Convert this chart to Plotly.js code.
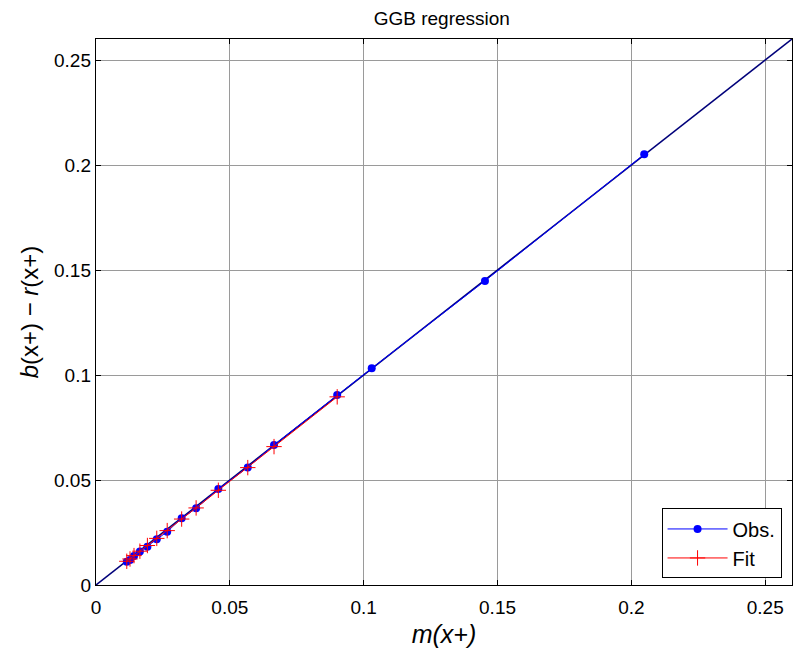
<!DOCTYPE html>
<html>
<head>
<meta charset="utf-8">
<script src="https://cdn.plot.ly/plotly-3.0.1.min.js"></script>
<style>html,body{margin:0;padding:0;background:#fff;}#chart{width:799px;height:650px;}</style>
</head>
<body>
<div id="chart"></div>
<script>
// Observed values
var obsX = [0.0115, 0.0127, 0.0142, 0.0164, 0.0192, 0.0227, 0.0266, 0.0320, 0.0374, 0.0457, 0.0567, 0.0665, 0.0901, 0.1030, 0.1453, 0.2048];
var obsY = [0.0111, 0.0119, 0.0138, 0.0159, 0.0182, 0.0218, 0.0254, 0.0318, 0.0365, 0.0457, 0.0560, 0.0667, 0.0905, 0.1032, 0.1448, 0.2051];
// Fitted values
var fitX = [0.0115, 0.0127, 0.0142, 0.0164, 0.0192, 0.0227, 0.0266, 0.0320, 0.0374, 0.0457, 0.0567, 0.0665, 0.0901];
var fitY = [0.0113, 0.0124, 0.0140, 0.0161, 0.0188, 0.0222, 0.0259, 0.0314, 0.0367, 0.0451, 0.0559, 0.0659, 0.0896];
// Reference diagonal
var diagX = [0, 0.26];
var diagY = [0, 0.26];
var tickVals = [0, 0.05, 0.1, 0.15, 0.2, 0.25];
var tickText = ['0', '0.05', '0.1', '0.15', '0.2', '0.25'];

var FONT = 'Liberation Sans, Arial, sans-serif';

var traces = [
  {x: diagX, y: diagY, type: 'scatter', mode: 'lines', showlegend: false, hoverinfo: 'skip',
   line: {color: '#00007a', width: 1.5}},
  {x: obsX, y: obsY, type: 'scatter', mode: 'lines+markers', name: 'Obs.',
   line: {color: '#0000ff', width: 1}, marker: {color: '#0000ff', size: 8}},
  {x: fitX, y: fitY, type: 'scatter', mode: 'lines+markers', name: 'Fit',
   line: {color: '#ff0000', width: 1}, marker: {color: '#ff0000', size: 11, symbol: 'cross-thin-open', line: {color: '#ff0000', width: 1}}}
];

var axisBase = {
  range: [0, 0.26], tickvals: tickVals, ticktext: tickText,
  showgrid: true, gridcolor: '#9a9a9a', gridwidth: 1,
  zeroline: false, showline: true, linecolor: '#000', linewidth: 1.2, mirror: 'ticks',
  ticks: 'inside', ticklen: 5, tickcolor: '#000',
  tickfont: {family: FONT, size: 19, color: '#000'}
};

var layout = {
  width: 799, height: 650,
  margin: {l: 96, r: 7, t: 39, b: 65},
  paper_bgcolor: '#fff', plot_bgcolor: '#fff',
  title: {text: 'GGB regression', x: 0.553, xanchor: 'center', y: 0.972, yanchor: 'middle',
          font: {family: FONT, size: 19, color: '#000'}},
  xaxis: Object.assign({}, axisBase, {
    ticklabelstandoff: 5,
    title: {text: '<i>m(x+)</i>', standoff: 8, font: {family: FONT, size: 25, color: '#000'}}
  }),
  yaxis: Object.assign({}, axisBase, {
    title: {text: '<i>b</i>(x+) − <i>r</i>(x+)', standoff: 8, font: {family: FONT, size: 24, color: '#000'}}
  }),
  legend: {x: 0.985, y: 0.012, xanchor: 'right', yanchor: 'bottom',
           bgcolor: '#fff', bordercolor: '#000', borderwidth: 1,
           font: {family: FONT, size: 20, color: '#000'},
           itemwidth: 60, tracegroupgap: 0},
  showlegend: true
};

Plotly.newPlot('chart', traces, layout, {displayModeBar: false, staticPlot: true});
</script>
</body>
</html>
